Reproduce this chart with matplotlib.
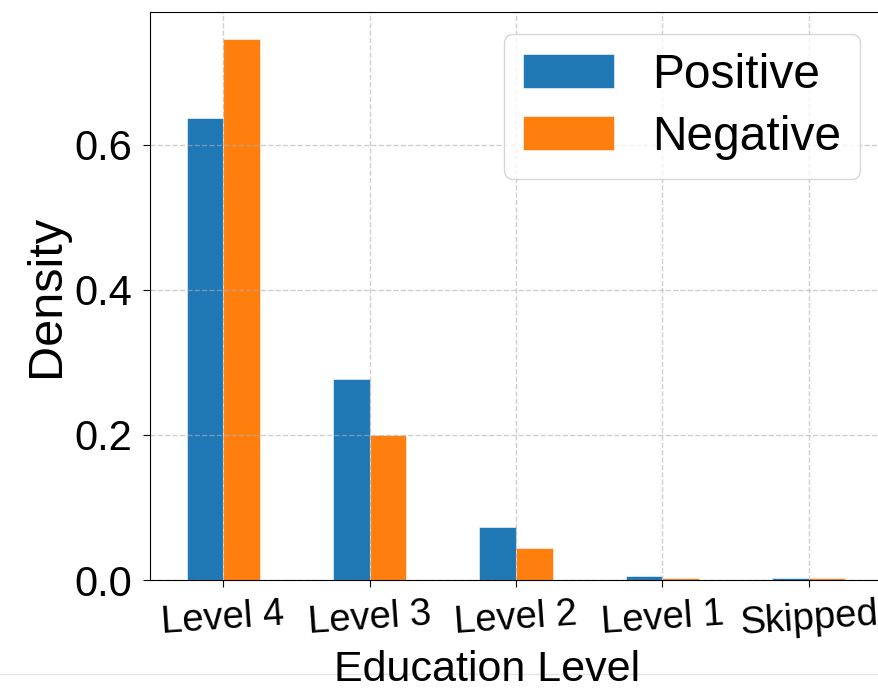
import matplotlib
matplotlib.use("Agg")
import matplotlib.pyplot as plt
import numpy as np
from matplotlib.lines import Line2D

plt.rcParams["font.family"] = ["Liberation Sans", "DejaVu Sans"]

# density of each education level per class
levels = ["Level 4", "Level 3", "Level 2", "Level 1", "Skipped"]
positive = [0.637, 0.277, 0.0735, 0.005, 0.0023]
negative = [0.746, 0.200, 0.0437, 0.0023, 0.0025]

W, H = 879, 690
fig = plt.figure(figsize=(W / 100, H / 100), dpi=100)
ax = fig.add_axes([150 / W, 1 - 580 / H, (882 - 150) / W, (580 - 12) / H])

x = np.arange(len(levels))
width = 0.25
ax.bar(x - width / 2, positive, width, color="#1f77b4", edgecolor="white",
       linewidth=0.4, label="Positive")
ax.bar(x + width / 2, negative, width, color="#ff7f0e", edgecolor="white",
       linewidth=0.4, label="Negative")

ax.set_xlim(-0.5, len(levels) - 0.5)
ax.set_xticks(x)
ax.set_xticklabels(levels, rotation=4, fontsize=27.5)
ax.set_yticks([0.0, 0.2, 0.4, 0.6])
ax.set_yticklabels(["0.0", "0.2", "0.4", "0.6"])
ax.tick_params(axis="y", labelsize=30, pad=8, length=5)
ax.tick_params(axis="x", length=5, pad=7)

ax.grid(True, linestyle="--", color="#b0b0b0", alpha=0.6, linewidth=1.0)

ax.set_ylabel("Density", fontsize=35)
ax.set_xlabel("Education Level", fontsize=31)
ax.xaxis.set_label_coords(0.46, -0.124)

leg = ax.legend(loc="upper right", fontsize=34.5, fancybox=True, framealpha=0.8,
                handlelength=1.9, labelspacing=0.35, handletextpad=0.8,
                borderaxespad=0.45)
leg.get_frame().set_edgecolor("#cccccc")

# faint page border under the x label
fig.add_artist(Line2D([0, 1], [1 - 674 / H, 1 - 674 / H], color="#e4e4e4",
                      linewidth=1, zorder=-1))

fig.savefig("out.png", dpi=100)
